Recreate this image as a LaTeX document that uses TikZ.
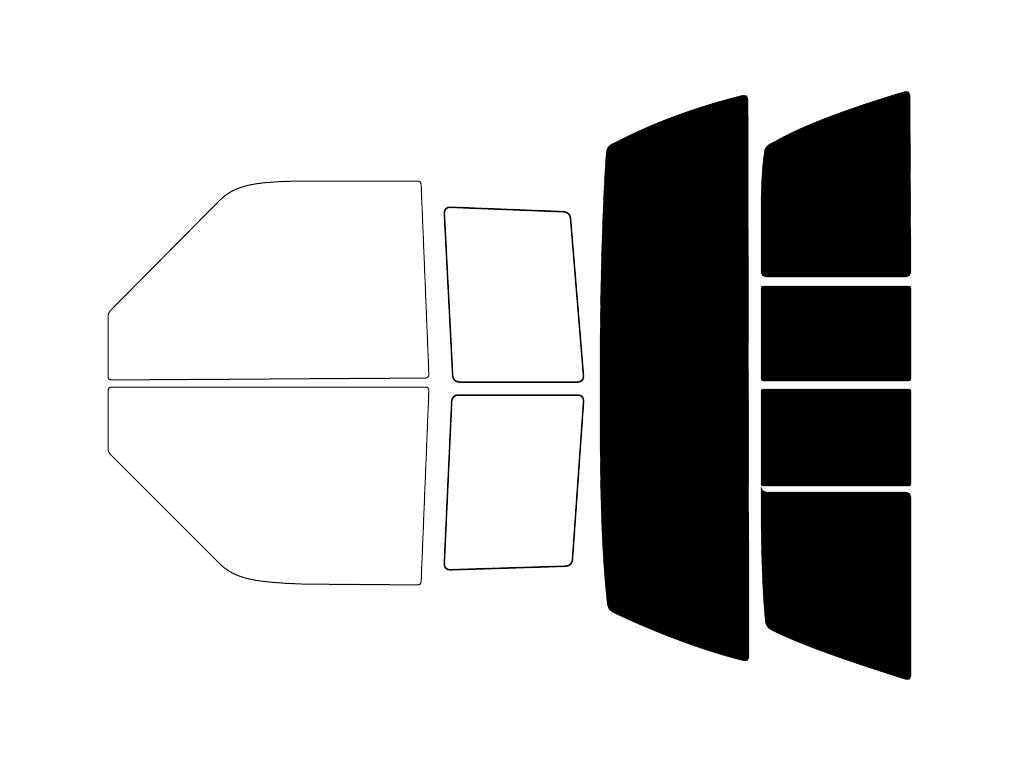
\documentclass[tikz,border=0pt]{standalone}
\begin{document}
\begin{tikzpicture}[x=1pt,y=-1pt,
  clear/.style={draw=black,line width=1pt,fill=white,rounded corners=3pt},
  glass/.style={draw=black,line width=1.5pt,fill=white,rounded corners=6pt},
  tint/.style={draw=black,fill=black,rounded corners=5pt}]
\useasboundingbox (0,0) rectangle (1024,768);
% front door
\draw[clear] (108,313) -- (222,198) .. controls (240,184) and (260,182) .. (300,181) -- (421,181) -- (429,378) -- (108,380) -- cycle;
\draw[clear] (108,387) -- (429,387) -- (421,585) -- (300,584) .. controls (260,582) and (240,580) .. (222,566) -- (108,452) -- cycle;
% rear door
\draw[glass] (444,207) -- (570,212) -- (584,382) -- (453,382) -- cycle;
\draw[glass] (452,395) -- (584,395) -- (572,566) -- (444,570) -- cycle;
% rear window
\draw[tint] (600,380) .. controls (600,280) and (603,200) .. (606,155) .. controls (607,148) and (610,145) .. (616,142)
  .. controls (660,120) and (700,106) .. (748,94) -- (749,662)
  .. controls (700,650) and (650,630) .. (608,610) .. controls (600,540) and (600,460) .. cycle;
% cargo side
\draw[tint] (761,220) .. controls (761,190) and (762,170) .. (764,155) .. controls (765,148) and (768,145) .. (774,142)
  .. controls (810,122) and (860,105) .. (910,90) -- (911,277) -- (761,277) -- cycle;
\draw[tint,rounded corners=2pt] (761,286) rectangle (911,381);
\draw[tint,rounded corners=2pt] (761,389) rectangle (911,486);
\draw[tint] (761,492) -- (911,492) -- (911,681) .. controls (860,665) and (800,645) .. (766,627) .. controls (762,590) and (761,540) .. cycle;
\end{tikzpicture}
\end{document}
